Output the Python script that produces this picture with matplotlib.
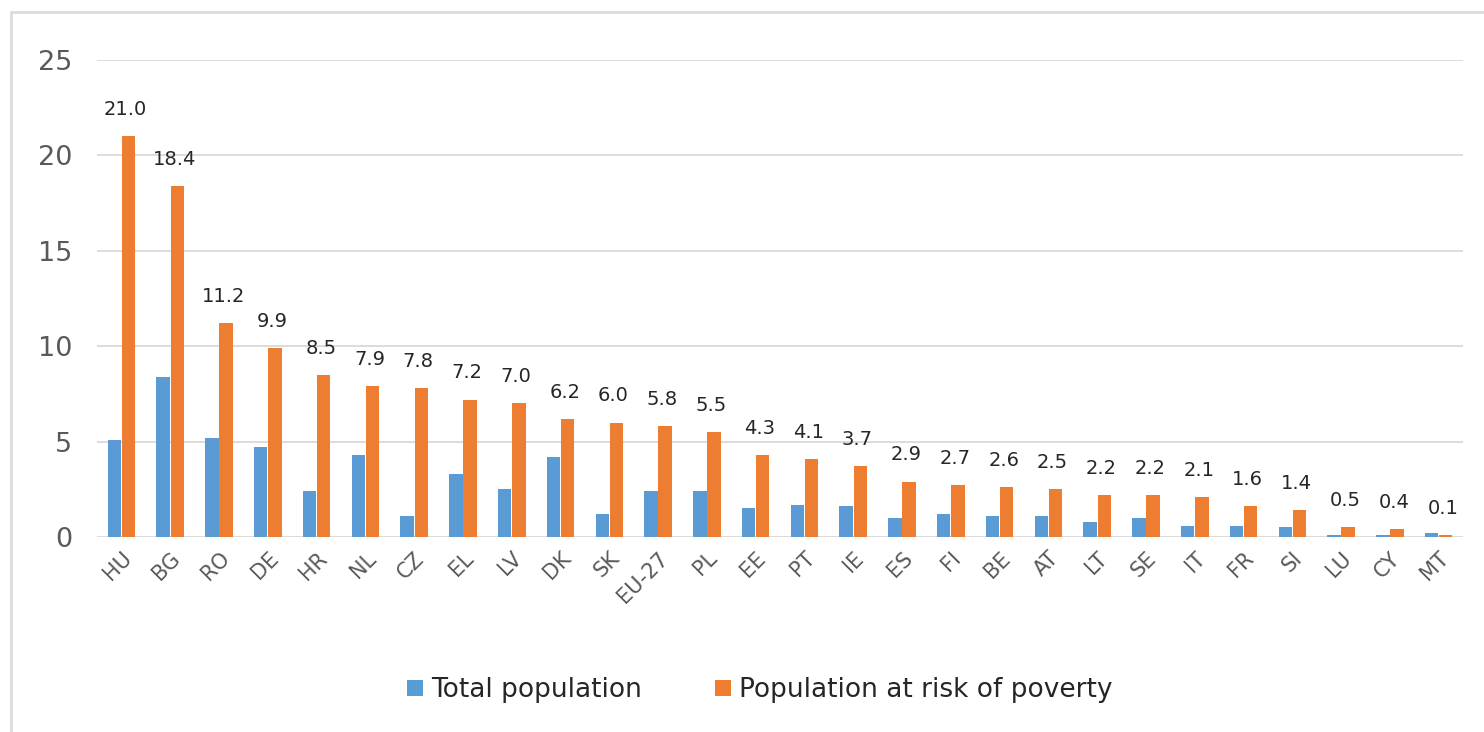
import matplotlib.pyplot as plt
from matplotlib.lines import Line2D
import numpy as np

countries = ['HU', 'BG', 'RO', 'DE', 'HR', 'NL', 'CZ', 'EL', 'LV', 'DK', 'SK', 'EU-27', 'PL', 'EE',
             'PT', 'IE', 'ES', 'FI', 'BE', 'AT', 'LT', 'SE', 'IT', 'FR', 'SI', 'LU', 'CY', 'MT']
total_population = [5.1, 8.4, 5.2, 4.7, 2.4, 4.3, 1.1, 3.3, 2.5, 4.2, 1.2, 2.4, 2.4, 1.5,
                    1.7, 1.6, 1.0, 1.2, 1.1, 1.1, 0.8, 1.0, 0.6, 0.6, 0.5, 0.1, 0.1, 0.2]
at_risk = [21.0, 18.4, 11.2, 9.9, 8.5, 7.9, 7.8, 7.2, 7.0, 6.2, 6.0, 5.8, 5.5, 4.3,
           4.1, 3.7, 2.9, 2.7, 2.6, 2.5, 2.2, 2.2, 2.1, 1.6, 1.4, 0.5, 0.4, 0.1]

blue = '#5B9BD5'
orange = '#ED7D31'
grey_text = '#595959'

fig = plt.figure(figsize=(14.84, 7.32), dpi=100)
ax = fig.add_axes([0.0654, 0.2664, 0.9205, 0.6516])

x = np.arange(len(countries))
w = 0.275
ax.bar(x - 0.145, total_population, width=w, color=blue, label='Total population', zorder=3)
bars = ax.bar(x + 0.145, at_risk, width=w, color=orange, label='Population at risk of poverty', zorder=3)

for rect, v in zip(bars, at_risk):
    ax.text(rect.get_x() + rect.get_width() / 2 - 0.06, v + 0.9, f'{v:.1f}',
            ha='center', va='bottom', fontsize=14, color='#262626')

ax.set_xlim(-0.5, len(countries) - 0.5)
ax.set_ylim(0, 25)
ax.set_yticks([0, 5, 10, 15, 20, 25])
ax.yaxis.grid(True, color='#d9d9d9', linewidth=1.3, zorder=0)
ax.set_axisbelow(True)
for s in ax.spines.values():
    s.set_visible(False)
ax.tick_params(axis='both', length=0, colors=grey_text)
ax.tick_params(axis='y', labelsize=19.5, pad=18)
ax.set_xticks(x)
ax.set_xticklabels(countries, rotation=45, ha='right', rotation_mode='anchor', fontsize=15)
ax.tick_params(axis='x', pad=8)

leg = fig.legend(loc='center', bbox_to_anchor=(0.512, 0.057), ncol=2, frameon=False,
                 fontsize=19, handlelength=0.6, handleheight=0.6, handletextpad=0.3,
                 columnspacing=2.8)
for t in leg.get_texts():
    t.set_color('#262626')

# light frame around the chart area
fig.add_artist(Line2D([11 / 1484, 1.0], [1 - 12 / 732, 1 - 12 / 732], color='#dcdcdc', linewidth=2))
fig.add_artist(Line2D([11 / 1484, 11 / 1484], [0, 1 - 12 / 732], color='#dcdcdc', linewidth=2))

plt.savefig('out.png', dpi=100)
plt.close()
